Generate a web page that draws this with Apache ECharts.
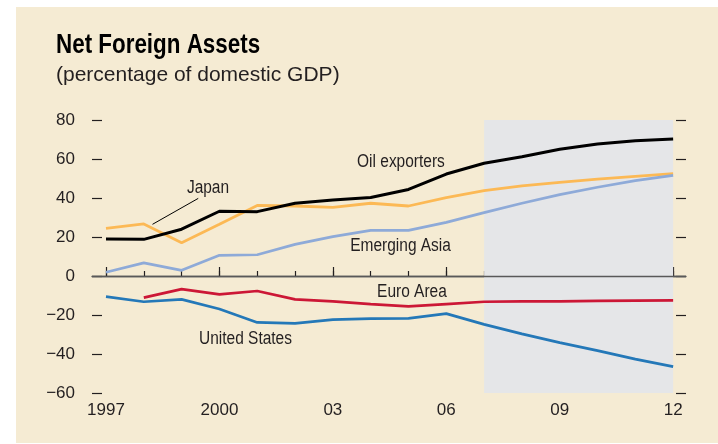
<!DOCTYPE html>
<html>
<head>
<meta charset="utf-8">
<script src="https://cdn.jsdelivr.net/npm/echarts@6/dist/echarts.min.js"></script>
<style>
    html, body {margin: 0; padding: 0; background: #fff;}
    #main {width: 718px; height: 444px;}
</style>
</head>
<body>
<div id="main"></div>
<script>
    var years = [1997, 1998, 1999, 2000, 2001, 2002, 2003, 2004, 2005, 2006, 2007, 2008, 2009, 2010, 2011, 2012];
    var majorYears = [1997, 2000, 2003, 2006, 2009, 2012];
    var yearLabels = ['1997', '2000', '03', '06', '09', '12'];
    var oilExporters = [19, 18.8, 24, 33.2, 33, 37.3, 39, 40.3, 44.4, 52.3, 57.8, 61.2, 65, 67.7, 69.4, 70.3];
    var japan = [24.4, 26.7, 17.1, 26.5, 36.2, 35.9, 35.2, 37.3, 35.9, 40.2, 43.8, 46.2, 48, 49.7, 51.1, 52.5];
    var emergingAsia = [1.9, 6.7, 2.9, 10.6, 10.9, 16.2, 20.2, 23.4, 23.4, 27.5, 32.5, 37.3, 41.7, 45.5, 48.9, 51.6];
    var euroArea = [null, -11.1, -6.7, -9.4, -7.7, -12, -13, -14.4, -15.6, -14.4, -13.2, -13, -13, -12.8, -12.6, -12.5];
    var unitedStates = [-10.6, -13.2, -12, -16.9, -23.8, -24.3, -22.4, -21.9, -21.7, -19.3, -24.8, -29.7, -34.2, -38.3, -42.6, -46.5];
    var projectionRange = [2007, 2012];

    // labels anchored in data coords [year, value]
    var seriesLabels = [
        {text: 'Oil exporters', at: [2003.64, 58.6]},
        {text: 'Japan', at: [1999.14, 45.1]},
        {text: 'Emerging Asia', at: [2003.46, 15.5]},
        {text: 'Euro Area', at: [2004.17, -8.1]},
        {text: 'United States', at: [1999.46, -32.5]}
    ];
    var japanLeader = [[1999.44, 39.8], [1998.23, 26.5]];

    var FONT = '"Liberation Sans", Arial, sans-serif';
    var INK = '#231f20';
    var NARROW = 0.86;   // fake a condensed face

    function pairs(vals) {
        return years.map(function (y, i) {
            return [y, vals[i]];
        });
    }

    function lineSeries(name, vals, color, width) {
        return {
            name: name,
            type: 'line',
            data: pairs(vals),
            symbol: 'none',
            connectNulls: false,
            lineStyle: {color: color, width: width},
            z: 5
        };
    }

    var chart = echarts.init(document.getElementById('main'), null, {renderer: 'canvas'});

    var series = [
        lineSeries('Japan', japan, '#fcb955', 2.8),
        lineSeries('Emerging Asia', emergingAsia, '#8eaad8', 2.7),
        lineSeries('Oil exporters', oilExporters, '#000000', 3),
        lineSeries('Euro Area', euroArea, '#cc1736', 2.7),
        lineSeries('United States', unitedStates, '#2478b8', 2.7)
    ];
    // projection shading + zero line hang off the first series
    series[0].markArea = {
        silent: true,
        itemStyle: {color: '#e5e6e8'},
        data: [[{xAxis: projectionRange[0]}, {xAxis: projectionRange[1]}]]
    };
    series[0].markLine = {
        silent: true,
        symbol: 'none',
        label: {show: false},
        lineStyle: {color: '#595959', width: 1.3, type: 'solid'},
        data: [{yAxis: 0}]
    };

    var option = {
        backgroundColor: '#ffffff',
        animation: false,
        grid: {left: 92, right: 32, top: 120, bottom: 51},
        xAxis: [{
            type: 'value',
            min: 1996.63,
            max: 2012.34,
            axisLine: {show: true, lineStyle: {color: '#595959', width: 1.3}},
            axisTick: {show: true, inside: true, length: 5, customValues: years, lineStyle: {color: INK, width: 1.2}},
            axisLabel: {
                show: true,
                customValues: majorYears,
                margin: 9,
                fontFamily: FONT,
                fontSize: 17,
                color: INK,
                formatter: function (v) {
                    var i = majorYears.indexOf(Math.round(v));
                    return i >= 0 ? yearLabels[i] : '';
                }
            },
            splitLine: {show: false}
        }, {
            type: 'value',
            position: 'bottom',
            min: 1996.63,
            max: 2012.34,
            axisLine: {show: false},
            axisTick: {show: true, inside: true, length: 9, customValues: majorYears, lineStyle: {color: INK, width: 1.2}},
            axisLabel: {show: false},
            splitLine: {show: false}
        }],
        yAxis: [{
            type: 'value',
            min: -60,
            max: 80,
            interval: 20,
            axisLine: {show: false},
            axisTick: {show: true, inside: true, length: 10, lineStyle: {color: INK, width: 1.2}},
            axisLabel: {
                margin: 17,
                fontFamily: FONT,
                fontSize: 17,
                color: INK,
                formatter: function (v) {
                    return v < 0 ? '\u2212' + Math.abs(v) : String(v);
                }
            },
            splitLine: {show: false}
        }, {
            type: 'value',
            position: 'right',
            min: -60,
            max: 80,
            interval: 20,
            axisLine: {show: false},
            axisTick: {show: true, inside: true, length: 10, lineStyle: {color: INK, width: 1.2}},
            axisLabel: {show: false},
            splitLine: {show: false}
        }],
        series: series
    };

    // cream panel behind everything, titles
    var baseGraphic = [{
        type: 'rect',
        left: 16, top: 7,
        shape: {width: 702, height: 436},
        style: {fill: '#f5ebd3'},
        z: -10,
        silent: true
    }, {
        type: 'text',
        x: 56, y: 31,
        scaleX: 0.8,
        style: {text: 'Net Foreign Assets', font: 'bold 28px ' + FONT, fill: '#000'}
    }, {
        type: 'text',
        x: 56, y: 65,
        scaleX: 1.0,
        style: {text: '(percentage of domestic GDP)', font: '21px ' + FONT, fill: INK}
    }];

    option.graphic = baseGraphic;
    chart.setOption(option);

    // put series names where the reference has them
    var extra = seriesLabels.map(function (lb) {
        var p = chart.convertToPixel({gridIndex: 0}, lb.at);
        return {
            type: 'text',
            x: p[0], y: p[1],
            scaleX: NARROW,
            style: {text: lb.text, font: '18px ' + FONT, fill: INK, textVerticalAlign: 'middle'},
            z: 20
        };
    });
    var a = chart.convertToPixel({gridIndex: 0}, japanLeader[0]);
    var b = chart.convertToPixel({gridIndex: 0}, japanLeader[1]);
    extra.push({
        type: 'line',
        shape: {x1: a[0], y1: a[1], x2: b[0], y2: b[1]},
        style: {stroke: '#000', lineWidth: 1},
        z: 20
    });
    chart.setOption({graphic: baseGraphic.concat(extra)});
</script>
</body>
</html>
